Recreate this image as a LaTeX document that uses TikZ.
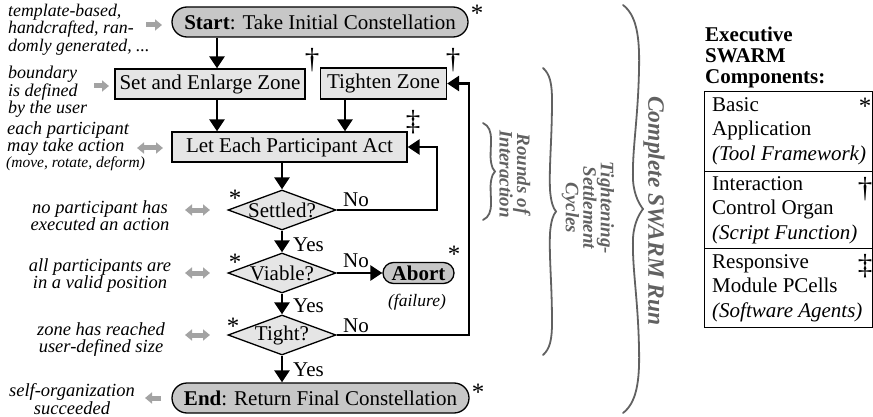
\documentclass[tikz,border=0pt]{standalone}
\usepackage{fontspec}
\setmainfont{Liberation Serif}
\usetikzlibrary{shapes.geometric,shapes.misc,arrows.meta}

\definecolor{darkfill}{gray}{0.78}
\definecolor{lightfill}{gray}{0.90}
\definecolor{notearrow}{gray}{0.64}
\definecolor{bracegray}{gray}{0.38}

\newcommand\mainfs{\fontsize{21}{24.5}\selectfont}
\newcommand\notefs{\fontsize{18.5}{17}\selectfont\itshape}

\tikzset{
  x=1pt, y=-1pt,
  terminal/.style={rounded rectangle, draw, line width=1.3pt, fill=darkfill,
    minimum height=30pt, inner sep=0pt, font=\mainfs},
  procbox/.style={rectangle, draw, line width=1.3pt, fill=lightfill,
    minimum height=30pt, inner sep=0pt, font=\mainfs},
  decision/.style={diamond, draw, line width=1.3pt, fill=lightfill,
    minimum width=108pt, minimum height=40pt, inner sep=0pt},
  conn/.style={line width=2.6pt, -{Triangle[length=12pt,width=15pt]}},
  answer/.style={inner sep=0pt, anchor=base west, font=\mainfs},
  sym/.style={inner sep=0pt, anchor=base, font=\fontsize{25}{25}\selectfont},
  dag/.style={inner sep=0pt, anchor=base, font=\fontsize{29}{29}\selectfont},
  note/.style={inner sep=0pt, font=\notefs},
  noteto/.style={line width=5pt, draw=notearrow,
    -{Triangle[length=7pt,width=11pt]}},
  notetwo/.style={line width=5pt, draw=notearrow,
    {Triangle[length=7pt,width=11pt]}-{Triangle[length=7pt,width=11pt]}},
  bracepath/.style={draw=bracegray, line width=1.8pt, line cap=round},
  bracetext/.style={rotate=-90, align=center, inner sep=0pt, text=bracegray,
    font=\fontsize{19}{17.5}\selectfont\bfseries\itshape},
  compcell/.style={rectangle, draw, line width=1.3pt, anchor=north west,
    minimum width=168pt, inner sep=0pt},
  comptext/.style={anchor=west, align=left, inner sep=0pt, font=\mainfs},
}

\begin{document}
\begin{tikzpicture}
\useasboundingbox (0,0) rectangle (873,417);

% ---- flow chart ----
\node[terminal, minimum width=296pt] (start) at (320,22)
  {\textbf{Start}: Take Initial Constellation};
\node[procbox, minimum width=190pt] (setz) at (210,84) {Set and Enlarge Zone};
\node[procbox, minimum width=126pt, minimum height=31pt] (tighten) at (383.5,83.5) {Tighten Zone};
\node[procbox, minimum width=235pt] (act) at (289.5,147) {Let Each Participant Act};
\node[decision, label={[font=\mainfs]center:Settled?}] (settled) at (282,210) {};
\node[decision, label={[font=\mainfs]center:Viable?}] (viable) at (282,273) {};
\node[decision, label={[font=\mainfs]center:Tight?}] (tightq) at (282,335) {};
\node[terminal, minimum width=297pt] (finish) at (320.5,398)
  {\textbf{End}: Return Final Constellation};
\node[terminal, minimum width=71pt, minimum height=21pt] (abort) at (418.5,273)
  {\textbf{Abort}};
\node[note, font=\fontsize{17.5}{17}\selectfont\itshape] (failure) at (417,302) {(failure)};

% component markers
\node[sym] (astStart) at (477,22) {*};
\node[sym] (astEnd) at (478,400) {*};
\node[sym] (astSettled) at (235,207) {*};
\node[sym] (astViable) at (235,270) {*};
\node[sym] (astTight) at (233,334) {*};
\node[sym] (astAbort) at (454,262) {*};
\node[dag] (dagSet) at (312,69) {\textdagger};
\node[dag] (dagTighten) at (453,69) {\textdagger};
\node[dag] (ddagAct) at (413,131) {\textdaggerdbl};

% connectors
\coordinate (colA) at (217,0);
\coordinate (colB) at (345,0);
\coordinate (loopA) at (437,0);
\coordinate (loopB) at (469,0);
\draw[conn] (start.south -| colA) -- (setz.north -| colA);
\draw[conn] (setz.south -| colA) -- (act.north -| colA);
\draw[conn] (tighten.south -| colB) -- (act.north -| colB);
\draw[conn] (act.south -| settled.north) -- (settled.north);
\draw[conn] (settled.south) -- (viable.north);
\draw[conn] (viable.south) -- (tightq.north);
\draw[conn] (tightq.south) -- (finish.north -| tightq.south);
\draw[conn] (settled.east) -| (loopA |- act.east) -- (act.east);
\draw[conn] (tightq.east) -| (loopB |- tighten.east) -- (tighten.east);
\draw[conn] (viable.east) -- (abort.west);

\node[answer] (yes1) at (293,251) {Yes};
\node[answer] (yes2) at (293,312) {Yes};
\node[answer] (yes3) at (293,376) {Yes};
\node[answer] (no1) at (343,206) {No};
\node[answer] (no2) at (343,267) {No};
\node[answer] (no3) at (343,332) {No};

% ---- annotations on the left ----
\node[note, anchor=north west, align=left, font=\fontsize{17.8}{16}\selectfont\itshape]
  (nStart) at (8,4) {template-based,\\handcrafted, ran-\\domly generated, ...};
\node[note, anchor=north west, align=left, font=\fontsize{18}{14.5}\selectfont\itshape]
  (nZone) at (8,66) {boundary\\is defined\\by the user};
\node[note, anchor=north west, align=left] (nAct) at (7,121)
  {each participant\\may take action};
\node[note, anchor=north west, font=\fontsize{15.5}{16}\selectfont\itshape]
  (nActB) at (6,156) {(move, rotate, deform)};
\node[note, anchor=north, align=center] (nSettled) at (100,200)
  {no participant has\\executed an action};
\node[note, anchor=north, align=center] (nViable) at (100,258)
  {all participants are\\in a valid position};
\node[note, anchor=north, align=center] (nTight) at (101,322)
  {zone has reached\\user-defined size};
\node[note, anchor=north, align=center, font=\fontsize{18.5}{16}\selectfont\itshape]
  (nEnd) at (72,383) {self-organization\\succeeded};

\coordinate (aStartA) at (146,25);  \coordinate (aStartB) at (162,25);
\coordinate (aZoneA) at (94,86);    \coordinate (aZoneB) at (109,86);
\coordinate (aActA) at (137,148);   \coordinate (aActB) at (163,148);
\coordinate (aSetA) at (185,210);   \coordinate (aSetB) at (210,210);
\coordinate (aViaA) at (185,273);   \coordinate (aViaB) at (210,273);
\coordinate (aTigA) at (185,335);   \coordinate (aTigB) at (210,335);
\coordinate (aEndA) at (161,398);   \coordinate (aEndB) at (145,398);
\draw[noteto] (aStartA) -- (aStartB);
\draw[noteto] (aZoneA) -- (aZoneB);
\draw[notetwo] (aActA) -- (aActB);
\draw[notetwo] (aSetA) -- (aSetB);
\draw[notetwo] (aViaA) -- (aViaB);
\draw[notetwo] (aTigA) -- (aTigB);
\draw[noteto] (aEndA) -- (aEndB);

% ---- braces ----
\draw[bracepath] (483,123) .. controls (489,126) and (491,131) .. (491,140)
  .. controls (491,150) and (490,156) .. (491,162)
  .. controls (492,167) and (493,170) .. (495,171.5)
  .. controls (493,173) and (492,176) .. (491,181)
  .. controls (490,187) and (491,193) .. (491,203)
  .. controls (491,212) and (489,217) .. (483,220);
\node[bracetext] (tRounds) at (515,174) {Rounds of\\Interaction};

\draw[bracepath] (543,68) .. controls (550,74) and (552,84) .. (552,100)
  .. controls (552,140) and (549,165) .. (550,190)
  .. controls (551,202) and (553,208) .. (556,211.5)
  .. controls (553,215) and (551,221) .. (550,233)
  .. controls (549,258) and (552,283) .. (552,323)
  .. controls (552,339) and (550,349) .. (543,355);
\node[bracetext] (tCycles) at (588,208) {Tightening-\\Settlement\\Cycles};

\draw[bracepath] (623,5) .. controls (636,15) and (640,35) .. (639,70)
  .. controls (638,120) and (632,150) .. (633,180)
  .. controls (634,196) and (640,205) .. (643,209)
  .. controls (640,213) and (634,222) .. (633,238)
  .. controls (632,268) and (638,298) .. (639,348)
  .. controls (640,383) and (636,403) .. (623,413);
\node[bracetext, font=\fontsize{23.5}{24}\selectfont\bfseries\itshape]
  (tRun) at (654,211) {Complete SWARM Run};

% ---- legend of components ----
\node[inner sep=0pt, anchor=north west, align=left,
  font=\fontsize{21}{21}\selectfont\bfseries]
  (legendHead) at (705,27) {Executive\\SWARM\\Components:};
\node[compcell, minimum height=80pt] (rowA) at (704,91) {};
\node[compcell, minimum height=77pt] (rowB) at (704,171) {};
\node[compcell, minimum height=79pt] (rowC) at (704,248) {};
\node[comptext] (rowAtext) at (712,131)
  {Basic\\Application\\\textit{(Tool Framework)}};
\node[comptext] (rowBtext) at (712,210)
  {Interaction\\Control Organ\\\textit{(Script Function)}};
\node[comptext] (rowCtext) at (712,288)
  {Responsive\\Module PCells\\\textit{(Software Agents)}};
\node[sym] (astRow) at (865,115) {*};
\node[dag] (dagRow) at (865,197) {\textdagger};
\node[dag] (ddagRow) at (865,274) {\textdaggerdbl};
\end{tikzpicture}
\end{document}
